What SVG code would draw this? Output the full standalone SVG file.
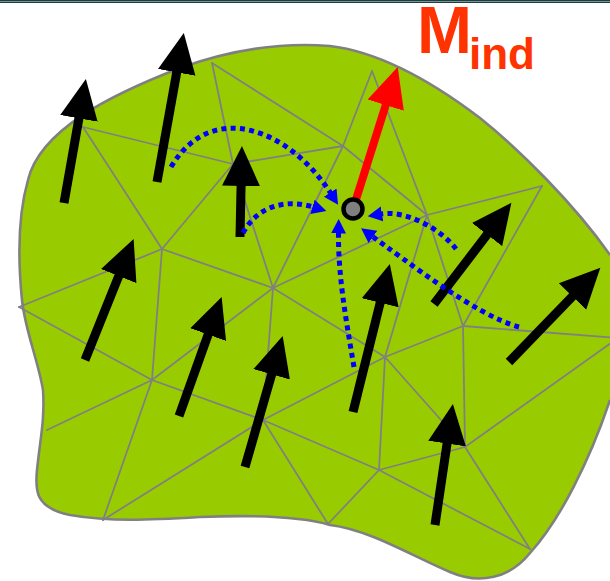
<svg xmlns="http://www.w3.org/2000/svg" width="610" height="581" viewBox="0 0 610 581">
<style>
.mesh line{stroke:#808080;stroke-width:1.8;stroke-linecap:round}
.mom{stroke:#000;stroke-width:9;stroke-linecap:butt;fill:none}
.ind{stroke:#ff0000;stroke-width:8;stroke-linecap:butt;fill:none}
.flow{stroke:#0000ff;stroke-width:5;stroke-dasharray:5 4.3;fill:none}
</style>
<defs>
<marker id="hb" markerUnits="userSpaceOnUse" viewBox="0 -20 41 40" markerWidth="41" markerHeight="40" refX="1" refY="0" orient="auto"><path d="M0,-19 L40,0 L0,19 Z" fill="#000"/></marker>
<marker id="hr" markerUnits="userSpaceOnUse" viewBox="0 -20 41 40" markerWidth="41" markerHeight="40" refX="1" refY="0" orient="auto"><path d="M0,-19 L40,0 L0,19 Z" fill="#ff0000"/></marker>
<marker id="hbl" markerUnits="userSpaceOnUse" viewBox="0 -9 16 18" markerWidth="16" markerHeight="18" refX="0.5" refY="0" orient="auto"><path d="M0,-7.5 L14.5,0 L0,7.5 Z" fill="#0000ff"/></marker>
</defs>
<rect x="0" y="0" width="610" height="3" fill="#263c3c"/>
<line x1="0" y1="1.5" x2="610" y2="1.5" stroke="#6a9a9a" stroke-width="1"/>
<g id="blob">
<path d="M28,180 C40,130 110,95 180,68 C230,50 280,42 330,46 C380,52 430,80 480,118 C520,150 575,205 610,255 L640,260 L640,400 L610,400 C590,460 560,520 530,553 C510,578 480,585 450,572 C410,555 370,530 330,525 C300,516 250,515 200,517 C150,520 110,522 70,515 C35,508 35,490 37,470 C40,440 45,420 43,390 C38,360 25,330 22,300 C18,260 18,215 28,180 Z" fill="#99cc00"/>
</g>
<g id="mesh" class="mesh">
<line x1="212" y1="63" x2="233" y2="164"/>
<line x1="212" y1="63" x2="343" y2="146"/>
<line x1="83" y1="127" x2="233" y2="164"/>
<line x1="83" y1="127" x2="162" y2="249"/>
<line x1="162" y1="249" x2="233" y2="164"/>
<line x1="162" y1="249" x2="19" y2="307"/>
<line x1="162" y1="249" x2="152" y2="380"/>
<line x1="162" y1="249" x2="273" y2="288"/>
<line x1="233" y1="164" x2="343" y2="146"/>
<line x1="233" y1="164" x2="273" y2="288"/>
<line x1="343" y1="146" x2="372" y2="71"/>
<line x1="343" y1="146" x2="427" y2="215"/>
<line x1="343" y1="146" x2="273" y2="288"/>
<line x1="372" y1="71" x2="427" y2="215"/>
<line x1="427" y1="215" x2="542" y2="186"/>
<line x1="427" y1="215" x2="273" y2="288"/>
<line x1="427" y1="215" x2="385" y2="357"/>
<line x1="427" y1="215" x2="463" y2="326"/>
<line x1="542" y1="186" x2="463" y2="326"/>
<line x1="463" y1="326" x2="618" y2="338"/>
<line x1="463" y1="326" x2="385" y2="357"/>
<line x1="463" y1="326" x2="465" y2="447"/>
<line x1="385" y1="357" x2="273" y2="288"/>
<line x1="385" y1="357" x2="263" y2="420"/>
<line x1="385" y1="357" x2="379" y2="470"/>
<line x1="385" y1="357" x2="465" y2="447"/>
<line x1="273" y1="288" x2="152" y2="380"/>
<line x1="273" y1="288" x2="263" y2="420"/>
<line x1="152" y1="380" x2="19" y2="307"/>
<line x1="152" y1="380" x2="47" y2="430"/>
<line x1="152" y1="380" x2="103" y2="520"/>
<line x1="152" y1="380" x2="263" y2="420"/>
<line x1="263" y1="420" x2="103" y2="520"/>
<line x1="263" y1="420" x2="379" y2="470"/>
<line x1="263" y1="420" x2="328" y2="524"/>
<line x1="379" y1="470" x2="328" y2="524"/>
<line x1="379" y1="470" x2="465" y2="447"/>
<line x1="379" y1="470" x2="530" y2="549"/>
<line x1="465" y1="447" x2="530" y2="549"/>
<line x1="465" y1="447" x2="618" y2="338"/>
</g>
<g id="blob-outline">
<path d="M28,180 C40,130 110,95 180,68 C230,50 280,42 330,46 C380,52 430,80 480,118 C520,150 575,205 610,255 M610,400 C590,460 560,520 530,553 C510,578 480,585 450,572 C410,555 370,530 330,525 C300,516 250,515 200,517 C150,520 110,522 70,515 C35,508 35,490 37,470 C40,440 45,420 43,390 C38,360 25,330 22,300 C18,260 18,215 28,180" fill="none" stroke="#808080" stroke-width="2.6"/>
</g>
<g id="moments">
<g id="m1"><line class="mom" x1="64" y1="203" x2="79.1" y2="117.4" marker-end="url(#hb)"/></g>
<g id="m2"><line class="mom" x1="157" y1="182" x2="176.9" y2="71.4" marker-end="url(#hb)"/></g>
<g id="m3"><line class="mom" x1="240" y1="237" x2="241.1" y2="185" marker-end="url(#hb)"/></g>
<g id="m4"><line class="mom" x1="85" y1="360" x2="119.1" y2="275.1" marker-end="url(#hb)"/></g>
<g id="m5"><line class="mom" x1="179" y1="416" x2="208.5" y2="333.6" marker-end="url(#hb)"/></g>
<g id="m6"><line class="mom" x1="245" y1="467" x2="271.9" y2="373.4" marker-end="url(#hb)"/></g>
<g id="m7"><line class="mom" x1="353" y1="412" x2="380.4" y2="301.8" marker-end="url(#hb)"/></g>
<g id="m8"><line class="mom" x1="434" y1="304" x2="487.7" y2="233.8" marker-end="url(#hb)"/></g>
<g id="m9"><line class="mom" x1="509" y1="362" x2="573.2" y2="295.7" marker-end="url(#hb)"/></g>
<g id="m10"><line class="mom" x1="435" y1="525" x2="447.2" y2="442.6" marker-end="url(#hb)"/></g>
</g>
<g id="connectors">
<path class="flow" d="M171,167 C212,98 290,130 330.5,193" marker-end="url(#hbl)"/>
<path class="flow" d="M243,233 C258,205 287,199 313,207" marker-end="url(#hbl)"/>
<path class="flow" d="M354,367 C346,320 338,275 338.5,233" marker-end="url(#hbl)"/>
<path class="flow" d="M456,249 C440,228 405,210 381.5,214" marker-end="url(#hbl)"/>
<path class="flow" d="M519,327 C475,315 404,259 372.5,236.5" marker-end="url(#hbl)"/>
</g>
<g id="induced">
<line class="ind" x1="353" y1="209" x2="386" y2="104.2" marker-end="url(#hr)"/>
<circle cx="353" cy="209" r="9.5" fill="#808080" stroke="#000" stroke-width="4.5"/>
</g>
<g id="label">
<text x="417" y="53" font-family="Liberation Sans, Arial, sans-serif" font-weight="bold" font-size="66" fill="#ff3300">M<tspan x="469" y="69" font-size="44">ind</tspan></text>
</g>
</svg>
